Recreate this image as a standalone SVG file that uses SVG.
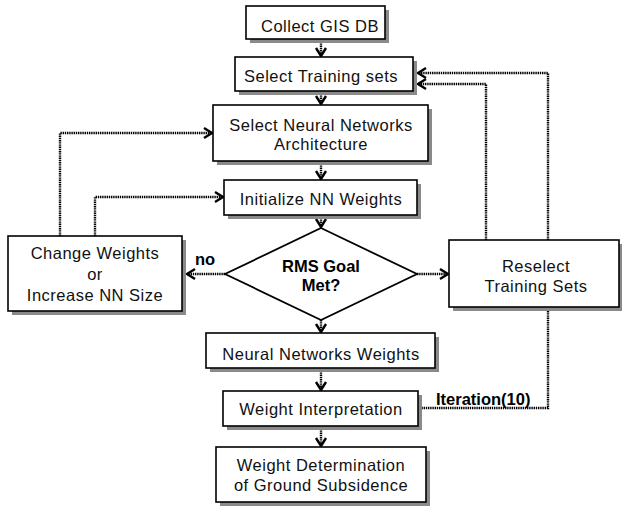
<svg xmlns="http://www.w3.org/2000/svg" width="622" height="506" viewBox="0 0 622 506">
<style>
.sh{fill:#8a8a8a}
.bx{fill:#fff;stroke:#000;stroke-width:1.6}
.t{font-family:"Liberation Sans",Arial,sans-serif;font-size:16.5px;letter-spacing:0.5px;text-anchor:middle;fill:#111}
.b{font-weight:bold;letter-spacing:0px;fill:#000}
.c{fill:none;stroke:#000;stroke-width:2.4;stroke-dasharray:1.4 0.8}
</style>
<defs>
<marker id="ah" markerUnits="userSpaceOnUse" markerWidth="14" markerHeight="14" refX="0" refY="0" viewBox="-9 -7 11 14" orient="auto" overflow="visible">
<path d="M-8,-5 L0,0 L-8,5" fill="none" stroke="#000" stroke-width="2.4" stroke-dasharray="none"/>
</marker>
</defs>
<rect width="622" height="506" fill="#fff"/>
<g id="connectors">
<path class="c" d="M321,39 V56" marker-end="url(#ah)"/>
<path class="c" d="M321,91 V104" marker-end="url(#ah)"/>
<path class="c" d="M321,161 V179" marker-end="url(#ah)"/>
<path class="c" d="M321,215 V227" marker-end="url(#ah)"/>
<path class="c" d="M321,320 V332" marker-end="url(#ah)"/>
<path class="c" d="M321,368 V390" marker-end="url(#ah)"/>
<path class="c" d="M321,426 V446" marker-end="url(#ah)"/>
<path class="c" d="M225,274 H187" marker-end="url(#ah)"/>
<path class="c" d="M417,274 H448" marker-end="url(#ah)"/>
<path class="c" d="M60,236 V133 H212" marker-end="url(#ah)"/>
<path class="c" d="M95,236 V197 H223" marker-end="url(#ah)"/>
<path class="c" d="M486,240 V84 H418" marker-end="url(#ah)"/>
<path class="c" d="M548,240 V73 H418" marker-end="url(#ah)"/>
<path class="c" d="M548,311 V408 H418"/>
<text class="t b" x="436" y="405" style="text-anchor:start">Iteration(10)</text>
<text class="t b" x="195" y="265" style="text-anchor:start">no</text>
</g>
<g id="collect">
<rect class="sh" x="250" y="10" width="139" height="33"/>
<rect class="bx" x="246" y="6" width="139" height="33"/>
<text class="t" x="320" y="32">Collect GIS DB</text>
</g>
<g id="train">
<rect class="sh" x="239" y="61" width="178" height="34"/>
<rect class="bx" x="235" y="57" width="178" height="34"/>
<text class="t" x="321" y="82">Select Training sets</text>
</g>
<g id="arch">
<rect class="sh" x="217" y="109" width="215" height="56"/>
<rect class="bx" x="213" y="105" width="215" height="56"/>
<text class="t" x="321" y="131">Select Neural Networks</text>
<text class="t" x="321" y="150">Architecture</text>
</g>
<g id="init">
<rect class="sh" x="228" y="184" width="193" height="35"/>
<rect class="bx" x="224" y="180" width="193" height="35"/>
<text class="t" x="321" y="205">Initialize NN Weights</text>
</g>
<g id="decision">
<polygon points="321,228 417,274 321,320 225,274" fill="#fff" stroke="#000" stroke-width="1.8"/>
<text class="t b" x="321" y="272">RMS Goal</text>
<text class="t b" x="321" y="291">Met?</text>
</g>
<g id="change">
<rect class="sh" x="12" y="240" width="174" height="75"/>
<rect class="bx" x="8" y="236" width="174" height="75"/>
<text class="t" x="95" y="259">Change Weights</text>
<text class="t" x="95" y="280">or</text>
<text class="t" x="95" y="301">Increase NN Size</text>
</g>
<g id="reselect">
<rect class="sh" x="453" y="244" width="170" height="67"/>
<rect class="bx" x="449" y="240" width="170" height="67"/>
<text class="t" x="536" y="272">Reselect</text>
<text class="t" x="536" y="292">Training Sets</text>
</g>
<g id="nnw">
<rect class="sh" x="210" y="337" width="229" height="35"/>
<rect class="bx" x="206" y="333" width="229" height="35"/>
<text class="t" x="321" y="360">Neural Networks Weights</text>
</g>
<g id="interp">
<rect class="sh" x="227" y="395" width="195" height="35"/>
<rect class="bx" x="223" y="391" width="195" height="35"/>
<text class="t" x="321" y="415">Weight Interpretation</text>
</g>
<g id="determ">
<rect class="sh" x="220" y="451" width="210" height="55"/>
<rect class="bx" x="216" y="447" width="210" height="55"/>
<text class="t" x="321" y="471">Weight Determination</text>
<text class="t" x="321" y="491">of Ground Subsidence</text>
</g>
</svg>
